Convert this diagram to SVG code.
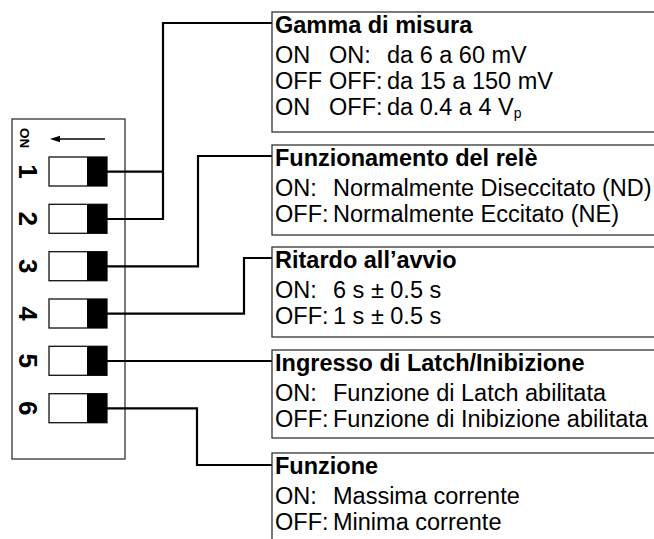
<svg xmlns="http://www.w3.org/2000/svg" width="654" height="539" viewBox="0 0 654 539">
<defs>
<style>
.frame{fill:none;stroke:#333;stroke-width:1.3}
.sw{fill:#fff;stroke:#111;stroke-width:1.3}
.knob{fill:#000}
.wire{fill:none;stroke:#000;stroke-width:2.2;stroke-linejoin:miter}
.dig{font-family:"Liberation Sans",Arial,sans-serif;font-weight:bold;font-size:26px;fill:#000}
.on{font-family:"Liberation Sans",Arial,sans-serif;font-weight:bold;font-size:13.5px;fill:#000}
.title{font-family:"Liberation Sans",Arial,sans-serif;font-weight:bold;font-size:23.5px;fill:#000}
.body{font-family:"Liberation Sans",Arial,sans-serif;font-size:23.5px;fill:#000}
.sub{font-size:14px}
</style>
</defs>

<g id="dip">
<rect class="frame" x="12" y="119" width="113" height="340"/>
<line x1="105" y1="139" x2="57" y2="139" stroke="#000" stroke-width="1.3"/>
<polygon points="50,139 60,135.8 60,142.2" fill="#000"/>
<text class="on" transform="translate(25,138) rotate(90)" x="0" y="5" text-anchor="middle">ON</text>
<g id="sw1"><rect class="sw" x="49" y="157" width="58" height="29"/><rect class="knob" x="87" y="157" width="20" height="29"/><text class="dig" transform="translate(28,171.5) rotate(90)" x="0" y="9.3" text-anchor="middle">1</text></g>
<g id="sw2"><rect class="sw" x="49" y="204.3" width="58" height="29"/><rect class="knob" x="87" y="204.3" width="20" height="29"/><text class="dig" transform="translate(28,218.8) rotate(90)" x="0" y="9.3" text-anchor="middle">2</text></g>
<g id="sw3"><rect class="sw" x="49" y="251.7" width="58" height="29"/><rect class="knob" x="87" y="251.7" width="20" height="29"/><text class="dig" transform="translate(28,266.2) rotate(90)" x="0" y="9.3" text-anchor="middle">3</text></g>
<g id="sw4"><rect class="sw" x="49" y="299" width="58" height="29"/><rect class="knob" x="87" y="299" width="20" height="29"/><text class="dig" transform="translate(28,313.5) rotate(90)" x="0" y="9.3" text-anchor="middle">4</text></g>
<g id="sw5"><rect class="sw" x="49" y="346.3" width="58" height="29"/><rect class="knob" x="87" y="346.3" width="20" height="29"/><text class="dig" transform="translate(28,360.8) rotate(90)" x="0" y="9.3" text-anchor="middle">5</text></g>
<g id="sw6"><rect class="sw" x="49" y="393.7" width="58" height="29"/><rect class="knob" x="87" y="393.7" width="20" height="29"/><text class="dig" transform="translate(28,408.2) rotate(90)" x="0" y="9.3" text-anchor="middle">6</text></g>
</g>

<g id="connectors">
<polyline class="wire" points="107,171.7 163,171.7"/>
<polyline class="wire" points="107,219 163,219 163,23 272,23"/>
<polyline class="wire" points="107,266.3 198,266.3 198,156 272,156"/>
<polyline class="wire" points="107,313.7 244,313.7 244,258 272,258"/>
<polyline class="wire" points="107,361 272,361"/>
<polyline class="wire" points="107,408.3 197,408.3 197,465 272,465"/>
</g>

<g id="box1">
<rect class="frame" x="272" y="12" width="390" height="120"/>
<text class="title" x="275" y="33">Gamma di misura</text>
<text class="body" y="63"><tspan x="275">ON</tspan><tspan x="329">ON:</tspan><tspan x="387">da 6 a 60 mV</tspan></text>
<text class="body" y="89"><tspan x="275">OFF</tspan><tspan x="329">OFF:</tspan><tspan x="387">da 15 a 150 mV</tspan></text>
<text class="body" y="115"><tspan x="275">ON</tspan><tspan x="329">OFF:</tspan><tspan x="387">da 0.4 a 4 V</tspan><tspan class="sub" dy="3">p</tspan></text>
</g>

<g id="box2">
<rect class="frame" x="272" y="145" width="390" height="90"/>
<text class="title" x="275" y="166">Funzionamento del relè</text>
<text class="body" y="196"><tspan x="275">ON:</tspan><tspan x="333">Normalmente Diseccitato (ND)</tspan></text>
<text class="body" y="222"><tspan x="275">OFF:</tspan><tspan x="333">Normalmente Eccitato (NE)</tspan></text>
</g>

<g id="box3">
<rect class="frame" x="272" y="247" width="390" height="90"/>
<text class="title" x="275" y="268">Ritardo all’avvio</text>
<text class="body" y="298"><tspan x="275">ON:</tspan><tspan x="333">6 s ± 0.5 s</tspan></text>
<text class="body" y="324"><tspan x="275">OFF:</tspan><tspan x="333">1 s ± 0.5 s</tspan></text>
</g>

<g id="box4">
<rect class="frame" x="272" y="350" width="390" height="88"/>
<text class="title" x="275" y="371">Ingresso di Latch/Inibizione</text>
<text class="body" y="401"><tspan x="275">ON:</tspan><tspan x="333">Funzione di Latch abilitata</tspan></text>
<text class="body" y="427"><tspan x="275">OFF:</tspan><tspan x="333">Funzione di Inibizione abilitata</tspan></text>
</g>

<g id="box5">
<rect class="frame" x="272" y="453" width="390" height="110"/>
<text class="title" x="275" y="474">Funzione</text>
<text class="body" y="504"><tspan x="275">ON:</tspan><tspan x="333">Massima corrente</tspan></text>
<text class="body" y="530"><tspan x="275">OFF:</tspan><tspan x="333">Minima corrente</tspan></text>
</g>
</svg>
